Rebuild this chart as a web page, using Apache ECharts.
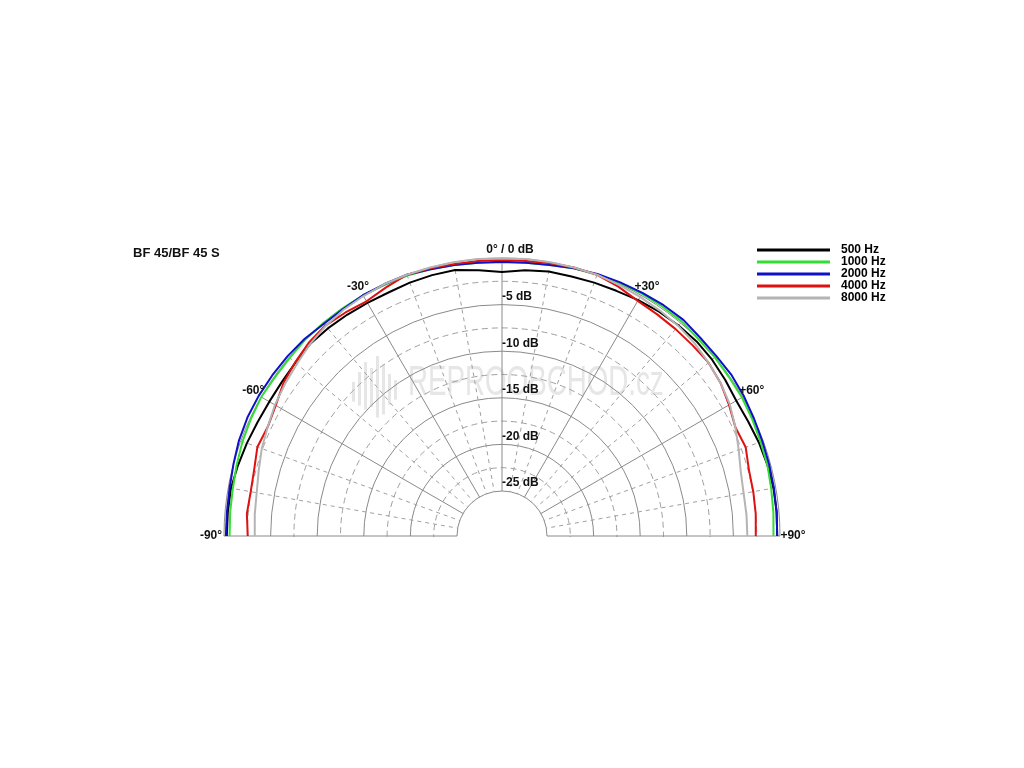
<!DOCTYPE html>
<html>
<head>
<meta charset="utf-8">
<script src="https://cdn.jsdelivr.net/npm/echarts@6/dist/echarts.min.js"></script>
<style>html,body{margin:0;padding:0;background:#fff}#c{width:1024px;height:768px}</style>
</head>
<body>
<div id="c"></div>
<script>
// Angles in degrees (-90 = left, 0 = on-axis, +90 = right)
const angles = [-90,-85,-80,-75,-70,-65,-60,-55,-50,-45,-40,-35,-30,-25,-20,-15,-10,-5,0,5,10,15,20,25,30,35,40,45,50,55,60,65,70,75,80,85,90];
const seriesNames = ['500 Hz','1000 Hz','2000 Hz','4000 Hz','8000 Hz'];
const hz500  = [-0.3,-0.3,-0.3,-0.5,-0.7,-0.9,-1.0,-1.0,-0.9,-0.7,-0.75,-0.85,-0.95,-1.0,-0.9,-0.85,-0.85,-1.2,-1.5,-1.2,-1.0,-1.0,-0.9,-0.8,-0.6,-0.45,-0.35,-0.3,-0.4,-0.6,-0.8,-0.7,-0.5,-0.35,-0.25,-0.25,-0.3];
const hz1000 = [-0.6,-0.55,-0.5,-0.35,-0.2,-0.1,0.0,-0.1,-0.1,0.0,0.0,0.0,0.0,-0.1,-0.1,-0.2,-0.3,-0.4,-0.45,-0.4,-0.3,-0.1,0.0,0.1,0.2,0.2,0.2,0.0,0.0,-0.1,-0.1,-0.2,-0.3,-0.35,-0.5,-0.6,-0.7];
const hz2000 = [-0.2,-0.2,-0.15,0.0,0.2,0.3,0.3,0.25,0.2,0.1,-0.1,-0.1,0.0,0.0,0.0,-0.2,-0.3,-0.4,-0.4,-0.4,-0.3,-0.1,0.1,0.2,0.3,0.4,0.45,0.25,0.2,0.25,0.15,0.0,-0.1,-0.15,-0.2,-0.25,-0.3];
const hz4000 = [-2.55,-2.35,-2.45,-2.3,-1.9,-2.1,-1.8,-1.2,-0.85,-0.5,-0.35,-0.55,-0.75,-0.4,0.0,-0.1,-0.2,-0.2,-0.2,-0.2,-0.1,0.0,0.0,-0.3,-0.7,-0.8,-0.85,-0.9,-0.9,-1.2,-1.7,-2.2,-2.0,-2.4,-2.45,-2.5,-2.6];
const hz8000 = [-3.3,-3.2,-3.1,-2.8,-2.4,-2.1,-1.7,-1.4,-1.1,-0.7,-0.4,-0.2,-0.1,0.0,0.0,0.0,0.0,0.0,-0.05,0.0,0.0,0.0,0.0,-0.1,-0.2,-0.3,-0.4,-0.6,-0.9,-1.2,-1.6,-2.2,-2.8,-3.3,-3.5,-3.5,-3.5];
const dbTicks = [-5,-10,-15,-20,-25];
const angleTicks = [-90,-60,-30,0,30,60,90];
const angleTickLabels = ['-90°','-60°','-30°','0° / 0 dB','+30°','+60°','+90°'];
const colors = ['#000000','#33dd33','#1010c8','#e01010','#b4b4b4'];
const allValues = [hz500,hz1000,hz2000,hz4000,hz8000];

const FONT = '"Liberation Sans", Arial, sans-serif';
// label offsets (pixels) relative to the point on the 0 dB ring
const angleLabelOffsets = {'-90':[-13,0],'-60':[-8,-6],'-30':[-5,-9],'0':[8,-8],'30':[6,-9],'60':[9,-6],'90':[13,0]};

// geometry: grid polar (-25..0 dB) and a data polar with identical scale but 1 dB headroom
const C = [502,536], R0 = 45, R1 = 278, HEAD = 1;
const pxPerDb = (R1 - R0) / 25;

const chart = echarts.init(document.getElementById('c'), null, {renderer:'canvas'});

const lineSeries = seriesNames.map((n,i)=>({
  name:n, type:'line', coordinateSystem:'polar', polarIndex:1,
  data: angles.map((a,k)=>[allValues[i][k], a]),
  showSymbol:false, symbol:'none', clip:false, z:3,
  lineStyle:{color:colors[i], width:2}, itemStyle:{color:colors[i]}
}));

const bars = [[352,382,14],[358,372,24],[364,362,34],[370,368,28],[376,356,44],[382,364,36],[388,374,22],[394,380,14]];
const labelStyle = {fontFamily:FONT, fontSize:12, fontWeight:'bold', color:'#111'};
const hidden = {axisLine:{show:false}, axisTick:{show:false}, axisLabel:{show:false}, splitLine:{show:false}, minorSplitLine:{show:false}, splitArea:{show:false}};

chart.setOption({
  animation:false,
  backgroundColor:'#ffffff',
  title:{text:'BF 45/BF 45 S', left:128, top:242, textStyle:{fontFamily:FONT, fontSize:13, fontWeight:'bold', color:'#111'}},
  legend:{
    orient:'vertical', left:752, top:239, itemWidth:73, itemHeight:3, itemGap:0,
    icon:'rect', data:seriesNames,
    textStyle:{fontFamily:FONT, fontSize:12, fontWeight:700, color:'#000', lineHeight:11.7, padding:[0,0,0,6]}
  },
  graphic:[
    {type:'rect', z:1, silent:true, shape:{x:0, y:537, width:1024, height:231}, style:{fill:'#ffffff'}},
    {type:'text', left:408, top:362, z:0, silent:true, scaleX:0.66,
     style:{text:'REPROOBCHOD.cz', fontFamily:FONT, fontSize:42, fill:'#e6e6e6'}}
  ].concat(bars.map(b=>({type:'rect', z:0, silent:true, shape:{x:b[0], y:b[1], width:3, height:b[2]*1.4}, style:{fill:'#e6e6e6'}}))),
  polar:[
    {center:C, radius:[R0,R1]},
    {center:C, radius:[R0,R1 + HEAD*pxPerDb]}
  ],
  angleAxis:[{
    polarIndex:0,
    type:'value', min:-90, max:90, interval:30, startAngle:180, endAngle:0, clockwise:true, z:2,
    axisLine:{show:false},
    axisTick:{show:false},
    minorTick:{show:false, splitNumber:3},
    splitLine:{show:true, lineStyle:{color:'#8a8a8a', width:1}},
    minorSplitLine:{show:true, lineStyle:{color:'#a0a0a0', width:1, type:[4,4]}},
    axisLabel:{show:false}
  }, Object.assign({
    polarIndex:1, type:'value', min:-90, max:90, interval:30, startAngle:180, endAngle:0, clockwise:true
  }, hidden)],
  radiusAxis:[{
    polarIndex:0,
    type:'value', min:-25, max:0, interval:5, z:0,
    axisLine:{show:false}, axisTick:{show:false}, axisLabel:{show:false},
    minorTick:{show:false, splitNumber:2},
    splitLine:{show:true, lineStyle:{color:'#8a8a8a', width:1}},
    minorSplitLine:{show:true, lineStyle:{color:'#a0a0a0', width:1, type:[6,4]}}
  }, Object.assign({
    polarIndex:1, type:'value', min:-25, max:HEAD
  }, hidden)],
  series: lineSeries.concat([{
    type:'scatter', coordinateSystem:'polar', polarIndex:0, symbolSize:0, z:4, silent:true,
    itemStyle:{opacity:1},
    data: dbTicks.map(d=>[d,0]),
    label:Object.assign({show:true, position:'right', distance:0, offset:[0,-8],
      formatter:function(p){return p.value[0]+' dB';}}, labelStyle)
  },{
    type:'scatter', coordinateSystem:'polar', polarIndex:0, symbolSize:0, z:4, silent:true,
    itemStyle:{opacity:1},
    data: angleTicks.map((a,i)=>({value:[0,a], name:angleTickLabels[i],
      label:{offset:angleLabelOffsets[String(a)]}})),
    label:Object.assign({show:true, position:'inside', formatter:'{b}'}, labelStyle)
  }])
});
</script>
</body>
</html>
